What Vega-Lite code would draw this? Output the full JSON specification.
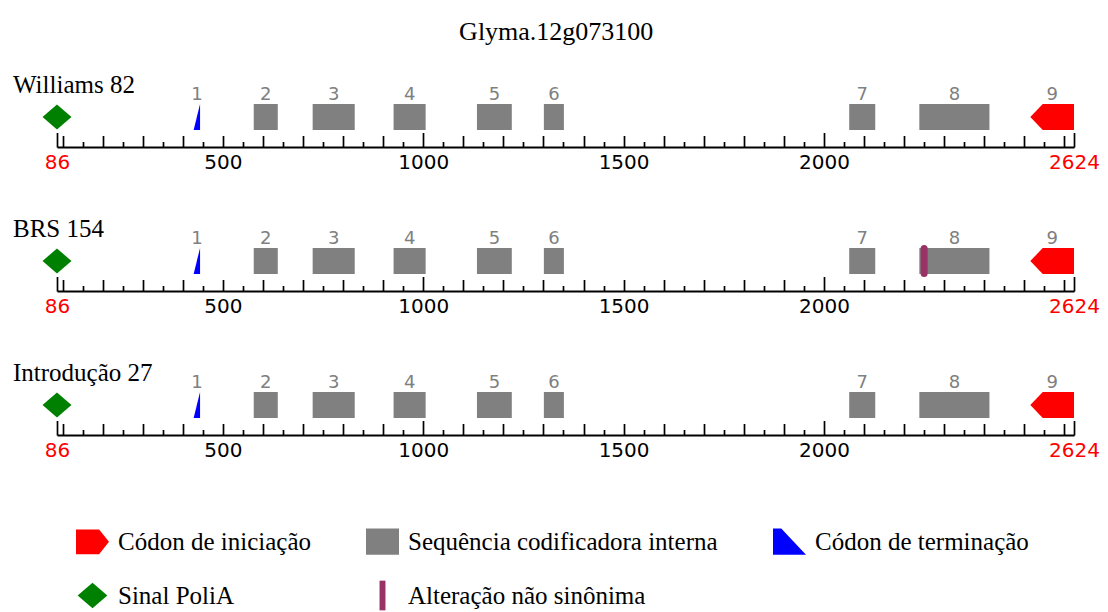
{
  "$schema": "https://vega.github.io/schema/vega-lite/v6.json",
  "background": "white",
  "padding": {"left": 13, "top": 19, "right": 5, "bottom": 5},
  "title": {
    "text": "Glyma.12g073100",
    "font": "Liberation Serif",
    "fontSize": 26,
    "fontWeight": "normal",
    "color": "black",
    "anchor": "middle",
    "offset": 28
  },
  "spacing": 45,
  "datasets": {
    "features": [
      {"variedade": "Williams 82", "n": 1, "tipo": "Códon de terminação", "inicio": 427, "fim": 443},
      {"variedade": "Williams 82", "n": 2, "tipo": "Sequência codificadora interna", "inicio": 577, "fim": 637},
      {"variedade": "Williams 82", "n": 3, "tipo": "Sequência codificadora interna", "inicio": 724, "fim": 829},
      {"variedade": "Williams 82", "n": 4, "tipo": "Sequência codificadora interna", "inicio": 926, "fim": 1006},
      {"variedade": "Williams 82", "n": 5, "tipo": "Sequência codificadora interna", "inicio": 1134, "fim": 1221},
      {"variedade": "Williams 82", "n": 6, "tipo": "Sequência codificadora interna", "inicio": 1301, "fim": 1351},
      {"variedade": "Williams 82", "n": 7, "tipo": "Sequência codificadora interna", "inicio": 2063, "fim": 2128},
      {"variedade": "Williams 82", "n": 8, "tipo": "Sequência codificadora interna", "inicio": 2238, "fim": 2413},
      {"variedade": "Williams 82", "n": 9, "tipo": "Códon de iniciação", "inicio": 2515, "fim": 2624},
      {"variedade": "BRS 154", "n": 1, "tipo": "Códon de terminação", "inicio": 427, "fim": 443},
      {"variedade": "BRS 154", "n": 2, "tipo": "Sequência codificadora interna", "inicio": 577, "fim": 637},
      {"variedade": "BRS 154", "n": 3, "tipo": "Sequência codificadora interna", "inicio": 724, "fim": 829},
      {"variedade": "BRS 154", "n": 4, "tipo": "Sequência codificadora interna", "inicio": 926, "fim": 1006},
      {"variedade": "BRS 154", "n": 5, "tipo": "Sequência codificadora interna", "inicio": 1134, "fim": 1221},
      {"variedade": "BRS 154", "n": 6, "tipo": "Sequência codificadora interna", "inicio": 1301, "fim": 1351},
      {"variedade": "BRS 154", "n": 7, "tipo": "Sequência codificadora interna", "inicio": 2063, "fim": 2128},
      {"variedade": "BRS 154", "n": 8, "tipo": "Sequência codificadora interna", "inicio": 2238, "fim": 2413},
      {"variedade": "BRS 154", "n": 9, "tipo": "Códon de iniciação", "inicio": 2515, "fim": 2624},
      {"variedade": "Introdução 27", "n": 1, "tipo": "Códon de terminação", "inicio": 427, "fim": 443},
      {"variedade": "Introdução 27", "n": 2, "tipo": "Sequência codificadora interna", "inicio": 577, "fim": 637},
      {"variedade": "Introdução 27", "n": 3, "tipo": "Sequência codificadora interna", "inicio": 724, "fim": 829},
      {"variedade": "Introdução 27", "n": 4, "tipo": "Sequência codificadora interna", "inicio": 926, "fim": 1006},
      {"variedade": "Introdução 27", "n": 5, "tipo": "Sequência codificadora interna", "inicio": 1134, "fim": 1221},
      {"variedade": "Introdução 27", "n": 6, "tipo": "Sequência codificadora interna", "inicio": 1301, "fim": 1351},
      {"variedade": "Introdução 27", "n": 7, "tipo": "Sequência codificadora interna", "inicio": 2063, "fim": 2128},
      {"variedade": "Introdução 27", "n": 8, "tipo": "Sequência codificadora interna", "inicio": 2238, "fim": 2413},
      {"variedade": "Introdução 27", "n": 9, "tipo": "Códon de iniciação", "inicio": 2515, "fim": 2624}
    ],
    "vertices": [
      {"variedade": "Williams 82", "tipo": "Códon de terminação", "pos": 427, "topo": 0, "base": 0},
      {"variedade": "Williams 82", "tipo": "Códon de terminação", "pos": 443, "topo": 1, "base": 0},
      {"variedade": "Williams 82", "tipo": "Códon de iniciação", "pos": 2515, "topo": 0.5, "base": 0.5},
      {"variedade": "Williams 82", "tipo": "Códon de iniciação", "pos": 2546, "topo": 1, "base": 0},
      {"variedade": "Williams 82", "tipo": "Códon de iniciação", "pos": 2624, "topo": 1, "base": 0},
      {"variedade": "BRS 154", "tipo": "Códon de terminação", "pos": 427, "topo": 0, "base": 0},
      {"variedade": "BRS 154", "tipo": "Códon de terminação", "pos": 443, "topo": 1, "base": 0},
      {"variedade": "BRS 154", "tipo": "Códon de iniciação", "pos": 2515, "topo": 0.5, "base": 0.5},
      {"variedade": "BRS 154", "tipo": "Códon de iniciação", "pos": 2546, "topo": 1, "base": 0},
      {"variedade": "BRS 154", "tipo": "Códon de iniciação", "pos": 2624, "topo": 1, "base": 0},
      {"variedade": "Introdução 27", "tipo": "Códon de terminação", "pos": 427, "topo": 0, "base": 0},
      {"variedade": "Introdução 27", "tipo": "Códon de terminação", "pos": 443, "topo": 1, "base": 0},
      {"variedade": "Introdução 27", "tipo": "Códon de iniciação", "pos": 2515, "topo": 0.5, "base": 0.5},
      {"variedade": "Introdução 27", "tipo": "Códon de iniciação", "pos": 2546, "topo": 1, "base": 0},
      {"variedade": "Introdução 27", "tipo": "Códon de iniciação", "pos": 2624, "topo": 1, "base": 0}
    ],
    "sinais": [
      {"variedade": "Williams 82", "tipo": "Sinal PoliA", "pos": 86},
      {"variedade": "BRS 154", "tipo": "Sinal PoliA", "pos": 86},
      {"variedade": "Introdução 27", "tipo": "Sinal PoliA", "pos": 86},
      {"variedade": "BRS 154", "tipo": "Alteração não sinônima", "pos": 2250}
    ]
  },
  "vconcat": [
    {
      "width": 1017,
      "height": 26,
      "title": {"text": "Williams 82", "anchor": "start", "frame": "group", "dx": -44, "dy": 12, "offset": 0, "font": "Liberation Serif", "fontSize": 25, "fontWeight": "normal", "color": "black"},
      "resolve": {"axis": {"x": "independent"}},
      "layer": [
        {
          "data": {"name": "features"},
          "transform": [{"filter": "datum.variedade === 'Williams 82' && datum.tipo === 'Sequência codificadora interna'"}],
          "mark": {"type": "rect", "color": "#808080"},
          "encoding": {
            "x": {"field": "inicio", "type": "quantitative", "scale": {"domain": [86, 2624], "nice": false, "zero": false},
              "axis": {"title": null, "orient": "bottom", "offset": 17, "grid": false, "values": [86, 500, 1000, 1500, 2000, 2624], "format": "d",
                "labelColor": {"condition": {"test": "datum.value == 86 || datum.value == 2624", "value": "#FF0000"}, "value": "#000000"},
                "labelFont": "DejaVu Sans", "labelFontSize": 20, "labelOverlap": false, "labelBound": false, "labelFlush": false, "labelPadding": 5,
                "ticks": false, "domain": true, "domainColor": "#000000", "domainWidth": 2.2}},
            "x2": {"field": "fim"},
            "y": {"datum": 0, "type": "quantitative", "scale": {"domain": [0, 1], "nice": false, "zero": false}, "axis": null},
            "y2": {"datum": 1}
          }
        },
        {
          "data": {"name": "vertices"},
          "transform": [{"filter": "datum.variedade === 'Williams 82' && datum.tipo === 'Códon de terminação'"}],
          "mark": {"type": "area", "color": "#0000FF", "interpolate": "linear"},
          "encoding": {
            "x": {"field": "pos", "type": "quantitative", "scale": {"domain": [86, 2624], "nice": false, "zero": false},
              "axis": {"title": null, "orient": "bottom", "offset": 17, "grid": false, "values": [86, 1000, 2000, 2624], "labels": false, "domain": false, "ticks": true, "tickSize": -14.5, "tickColor": "#000000", "tickWidth": 1.7}},
            "y": {"field": "topo", "type": "quantitative", "scale": {"domain": [0, 1], "nice": false, "zero": false}, "axis": null},
            "y2": {"field": "base"}
          }
        },
        {
          "data": {"name": "vertices"},
          "transform": [{"filter": "datum.variedade === 'Williams 82' && datum.tipo === 'Códon de iniciação'"}],
          "mark": {"type": "area", "color": "#FF0000", "interpolate": "linear"},
          "encoding": {
            "x": {"field": "pos", "type": "quantitative", "scale": {"domain": [86, 2624], "nice": false, "zero": false},
              "axis": {"title": null, "orient": "bottom", "offset": 17, "grid": false, "values": [100,200,300,400,500,600,700,800,900,1100,1200,1300,1400,1500,1600,1700,1800,1900,2100,2200,2300,2400,2500,2600], "labels": false, "domain": false, "ticks": true, "tickSize": -11.5, "tickColor": "#000000", "tickWidth": 1.7}},
            "y": {"field": "topo", "type": "quantitative", "scale": {"domain": [0, 1], "nice": false, "zero": false}, "axis": null},
            "y2": {"field": "base"}
          }
        },
        {
          "data": {"name": "sinais"},
          "transform": [{"filter": "datum.variedade === 'Williams 82' && datum.tipo === 'Sinal PoliA'"}],
          "mark": {"type": "point", "filled": true, "opacity": 1, "size": 1037, "strokeWidth": 0},
          "encoding": {
            "x": {"field": "pos", "type": "quantitative", "scale": {"domain": [86, 2624], "nice": false, "zero": false},
              "axis": {"title": null, "orient": "bottom", "offset": 17, "grid": false, "values": [150,250,350,450,550,650,750,850,950,1050,1150,1250,1350,1450,1550,1650,1750,1850,1950,2050,2150,2250,2350,2450,2550], "labels": false, "domain": false, "ticks": true, "tickSize": -5.5, "tickColor": "#000000", "tickWidth": 1.7}},
            "y": {"datum": 0.5, "type": "quantitative", "scale": {"domain": [0, 1], "nice": false, "zero": false}, "axis": null},
            "color": {"field": "tipo", "type": "nominal",
              "scale": {"domain": ["Códon de iniciação", "Sequência codificadora interna", "Códon de terminação", "Sinal PoliA", "Alteração não sinônima"], "range": ["#FF0000", "#808080", "#0000FF", "#008000", "#993366"]},
              "legend": {"orient": "none", "legendX": 19, "legendY": 421, "title": null, "direction": "horizontal", "columns": 3}},
            "shape": {"field": "tipo", "type": "nominal",
              "scale": {"domain": ["Códon de iniciação", "Sequência codificadora interna", "Códon de terminação", "Sinal PoliA", "Alteração não sinônima"],
                "range": ["M-1,-0.75L0.4,-0.75L1,0L0.4,0.75L-1,0.75Z", "M-1,-0.8L1,-0.8L1,0.8L-1,0.8Z", "M-1,-0.8L-0.5,-0.8L1,0.8L-1,0.8Z", "M-0.9,0L0,-0.78L0.9,0L0,0.78Z", "M-0.18,-0.9L0.18,-0.9L0.18,0.9L-0.18,0.9Z"]},
              "legend": {"orient": "none", "legendX": 19, "legendY": 421, "title": null, "direction": "horizontal", "columns": 3}}
          }
        },
        {
          "data": {"name": "features"},
          "transform": [{"filter": "datum.variedade === 'Williams 82'"}, {"calculate": "(datum.inicio + datum.fim) / 2", "as": "meio"}],
          "mark": {"type": "text", "baseline": "alphabetic", "dy": -4, "font": "DejaVu Sans", "fontSize": 18, "color": "#808080"},
          "encoding": {
            "x": {"field": "meio", "type": "quantitative", "scale": {"domain": [86, 2624], "nice": false, "zero": false}, "axis": null},
            "y": {"datum": 1, "type": "quantitative", "scale": {"domain": [0, 1], "nice": false, "zero": false}, "axis": null},
            "text": {"field": "n"}
          }
        }
      ]
    },
    {
      "width": 1017,
      "height": 26,
      "title": {"text": "BRS 154", "anchor": "start", "frame": "group", "dx": -44, "dy": 12, "offset": 0, "font": "Liberation Serif", "fontSize": 25, "fontWeight": "normal", "color": "black"},
      "resolve": {"axis": {"x": "independent"}},
      "layer": [
        {
          "data": {"name": "features"},
          "transform": [{"filter": "datum.variedade === 'BRS 154' && datum.tipo === 'Sequência codificadora interna'"}],
          "mark": {"type": "rect", "color": "#808080"},
          "encoding": {
            "x": {"field": "inicio", "type": "quantitative", "scale": {"domain": [86, 2624], "nice": false, "zero": false},
              "axis": {"title": null, "orient": "bottom", "offset": 17, "grid": false, "values": [86, 500, 1000, 1500, 2000, 2624], "format": "d",
                "labelColor": {"condition": {"test": "datum.value == 86 || datum.value == 2624", "value": "#FF0000"}, "value": "#000000"},
                "labelFont": "DejaVu Sans", "labelFontSize": 20, "labelOverlap": false, "labelBound": false, "labelFlush": false, "labelPadding": 5,
                "ticks": false, "domain": true, "domainColor": "#000000", "domainWidth": 2.2}},
            "x2": {"field": "fim"},
            "y": {"datum": 0, "type": "quantitative", "scale": {"domain": [0, 1], "nice": false, "zero": false}, "axis": null},
            "y2": {"datum": 1}
          }
        },
        {
          "data": {"name": "vertices"},
          "transform": [{"filter": "datum.variedade === 'BRS 154' && datum.tipo === 'Códon de terminação'"}],
          "mark": {"type": "area", "color": "#0000FF", "interpolate": "linear"},
          "encoding": {
            "x": {"field": "pos", "type": "quantitative", "scale": {"domain": [86, 2624], "nice": false, "zero": false},
              "axis": {"title": null, "orient": "bottom", "offset": 17, "grid": false, "values": [86, 1000, 2000, 2624], "labels": false, "domain": false, "ticks": true, "tickSize": -14.5, "tickColor": "#000000", "tickWidth": 1.7}},
            "y": {"field": "topo", "type": "quantitative", "scale": {"domain": [0, 1], "nice": false, "zero": false}, "axis": null},
            "y2": {"field": "base"}
          }
        },
        {
          "data": {"name": "vertices"},
          "transform": [{"filter": "datum.variedade === 'BRS 154' && datum.tipo === 'Códon de iniciação'"}],
          "mark": {"type": "area", "color": "#FF0000", "interpolate": "linear"},
          "encoding": {
            "x": {"field": "pos", "type": "quantitative", "scale": {"domain": [86, 2624], "nice": false, "zero": false},
              "axis": {"title": null, "orient": "bottom", "offset": 17, "grid": false, "values": [100,200,300,400,500,600,700,800,900,1100,1200,1300,1400,1500,1600,1700,1800,1900,2100,2200,2300,2400,2500,2600], "labels": false, "domain": false, "ticks": true, "tickSize": -11.5, "tickColor": "#000000", "tickWidth": 1.7}},
            "y": {"field": "topo", "type": "quantitative", "scale": {"domain": [0, 1], "nice": false, "zero": false}, "axis": null},
            "y2": {"field": "base"}
          }
        },
        {
          "data": {"name": "sinais"},
          "transform": [{"filter": "datum.variedade === 'BRS 154' && datum.tipo === 'Alteração não sinônima'"}],
          "mark": {"type": "rule", "color": "#993366", "strokeWidth": 7, "strokeCap": "round"},
          "encoding": {
            "x": {"field": "pos", "type": "quantitative", "scale": {"domain": [86, 2624], "nice": false, "zero": false}, "axis": null},
            "y": {"datum": 0.02, "type": "quantitative", "scale": {"domain": [0, 1], "nice": false, "zero": false}, "axis": null},
            "y2": {"datum": 0.98}
          }
        },
        {
          "data": {"name": "sinais"},
          "transform": [{"filter": "datum.variedade === 'BRS 154' && datum.tipo === 'Sinal PoliA'"}],
          "mark": {"type": "point", "filled": true, "opacity": 1, "size": 1037, "strokeWidth": 0},
          "encoding": {
            "x": {"field": "pos", "type": "quantitative", "scale": {"domain": [86, 2624], "nice": false, "zero": false},
              "axis": {"title": null, "orient": "bottom", "offset": 17, "grid": false, "values": [150,250,350,450,550,650,750,850,950,1050,1150,1250,1350,1450,1550,1650,1750,1850,1950,2050,2150,2250,2350,2450,2550], "labels": false, "domain": false, "ticks": true, "tickSize": -5.5, "tickColor": "#000000", "tickWidth": 1.7}},
            "y": {"datum": 0.5, "type": "quantitative", "scale": {"domain": [0, 1], "nice": false, "zero": false}, "axis": null},
            "color": {"field": "tipo", "type": "nominal",
              "scale": {"domain": ["Códon de iniciação", "Sequência codificadora interna", "Códon de terminação", "Sinal PoliA", "Alteração não sinônima"], "range": ["#FF0000", "#808080", "#0000FF", "#008000", "#993366"]},
              "legend": {"orient": "none", "legendX": 19, "legendY": 421, "title": null, "direction": "horizontal", "columns": 3}},
            "shape": {"field": "tipo", "type": "nominal",
              "scale": {"domain": ["Códon de iniciação", "Sequência codificadora interna", "Códon de terminação", "Sinal PoliA", "Alteração não sinônima"],
                "range": ["M-1,-0.75L0.4,-0.75L1,0L0.4,0.75L-1,0.75Z", "M-1,-0.8L1,-0.8L1,0.8L-1,0.8Z", "M-1,-0.8L-0.5,-0.8L1,0.8L-1,0.8Z", "M-0.9,0L0,-0.78L0.9,0L0,0.78Z", "M-0.18,-0.9L0.18,-0.9L0.18,0.9L-0.18,0.9Z"]},
              "legend": {"orient": "none", "legendX": 19, "legendY": 421, "title": null, "direction": "horizontal", "columns": 3}}
          }
        },
        {
          "data": {"name": "features"},
          "transform": [{"filter": "datum.variedade === 'BRS 154'"}, {"calculate": "(datum.inicio + datum.fim) / 2", "as": "meio"}],
          "mark": {"type": "text", "baseline": "alphabetic", "dy": -4, "font": "DejaVu Sans", "fontSize": 18, "color": "#808080"},
          "encoding": {
            "x": {"field": "meio", "type": "quantitative", "scale": {"domain": [86, 2624], "nice": false, "zero": false}, "axis": null},
            "y": {"datum": 1, "type": "quantitative", "scale": {"domain": [0, 1], "nice": false, "zero": false}, "axis": null},
            "text": {"field": "n"}
          }
        }
      ]
    },
    {
      "width": 1017,
      "height": 26,
      "title": {"text": "Introdução 27", "anchor": "start", "frame": "group", "dx": -44, "dy": 12, "offset": 0, "font": "Liberation Serif", "fontSize": 25, "fontWeight": "normal", "color": "black"},
      "resolve": {"axis": {"x": "independent"}},
      "layer": [
        {
          "data": {"name": "features"},
          "transform": [{"filter": "datum.variedade === 'Introdução 27' && datum.tipo === 'Sequência codificadora interna'"}],
          "mark": {"type": "rect", "color": "#808080"},
          "encoding": {
            "x": {"field": "inicio", "type": "quantitative", "scale": {"domain": [86, 2624], "nice": false, "zero": false},
              "axis": {"title": null, "orient": "bottom", "offset": 17, "grid": false, "values": [86, 500, 1000, 1500, 2000, 2624], "format": "d",
                "labelColor": {"condition": {"test": "datum.value == 86 || datum.value == 2624", "value": "#FF0000"}, "value": "#000000"},
                "labelFont": "DejaVu Sans", "labelFontSize": 20, "labelOverlap": false, "labelBound": false, "labelFlush": false, "labelPadding": 5,
                "ticks": false, "domain": true, "domainColor": "#000000", "domainWidth": 2.2}},
            "x2": {"field": "fim"},
            "y": {"datum": 0, "type": "quantitative", "scale": {"domain": [0, 1], "nice": false, "zero": false}, "axis": null},
            "y2": {"datum": 1}
          }
        },
        {
          "data": {"name": "vertices"},
          "transform": [{"filter": "datum.variedade === 'Introdução 27' && datum.tipo === 'Códon de terminação'"}],
          "mark": {"type": "area", "color": "#0000FF", "interpolate": "linear"},
          "encoding": {
            "x": {"field": "pos", "type": "quantitative", "scale": {"domain": [86, 2624], "nice": false, "zero": false},
              "axis": {"title": null, "orient": "bottom", "offset": 17, "grid": false, "values": [86, 1000, 2000, 2624], "labels": false, "domain": false, "ticks": true, "tickSize": -14.5, "tickColor": "#000000", "tickWidth": 1.7}},
            "y": {"field": "topo", "type": "quantitative", "scale": {"domain": [0, 1], "nice": false, "zero": false}, "axis": null},
            "y2": {"field": "base"}
          }
        },
        {
          "data": {"name": "vertices"},
          "transform": [{"filter": "datum.variedade === 'Introdução 27' && datum.tipo === 'Códon de iniciação'"}],
          "mark": {"type": "area", "color": "#FF0000", "interpolate": "linear"},
          "encoding": {
            "x": {"field": "pos", "type": "quantitative", "scale": {"domain": [86, 2624], "nice": false, "zero": false},
              "axis": {"title": null, "orient": "bottom", "offset": 17, "grid": false, "values": [100,200,300,400,500,600,700,800,900,1100,1200,1300,1400,1500,1600,1700,1800,1900,2100,2200,2300,2400,2500,2600], "labels": false, "domain": false, "ticks": true, "tickSize": -11.5, "tickColor": "#000000", "tickWidth": 1.7}},
            "y": {"field": "topo", "type": "quantitative", "scale": {"domain": [0, 1], "nice": false, "zero": false}, "axis": null},
            "y2": {"field": "base"}
          }
        },
        {
          "data": {"name": "sinais"},
          "transform": [{"filter": "datum.variedade === 'Introdução 27' && datum.tipo === 'Sinal PoliA'"}],
          "mark": {"type": "point", "filled": true, "opacity": 1, "size": 1037, "strokeWidth": 0},
          "encoding": {
            "x": {"field": "pos", "type": "quantitative", "scale": {"domain": [86, 2624], "nice": false, "zero": false},
              "axis": {"title": null, "orient": "bottom", "offset": 17, "grid": false, "values": [150,250,350,450,550,650,750,850,950,1050,1150,1250,1350,1450,1550,1650,1750,1850,1950,2050,2150,2250,2350,2450,2550], "labels": false, "domain": false, "ticks": true, "tickSize": -5.5, "tickColor": "#000000", "tickWidth": 1.7}},
            "y": {"datum": 0.5, "type": "quantitative", "scale": {"domain": [0, 1], "nice": false, "zero": false}, "axis": null},
            "color": {"field": "tipo", "type": "nominal",
              "scale": {"domain": ["Códon de iniciação", "Sequência codificadora interna", "Códon de terminação", "Sinal PoliA", "Alteração não sinônima"], "range": ["#FF0000", "#808080", "#0000FF", "#008000", "#993366"]},
              "legend": {"orient": "none", "legendX": 19, "legendY": 421, "title": null, "direction": "horizontal", "columns": 3}},
            "shape": {"field": "tipo", "type": "nominal",
              "scale": {"domain": ["Códon de iniciação", "Sequência codificadora interna", "Códon de terminação", "Sinal PoliA", "Alteração não sinônima"],
                "range": ["M-1,-0.75L0.4,-0.75L1,0L0.4,0.75L-1,0.75Z", "M-1,-0.8L1,-0.8L1,0.8L-1,0.8Z", "M-1,-0.8L-0.5,-0.8L1,0.8L-1,0.8Z", "M-0.9,0L0,-0.78L0.9,0L0,0.78Z", "M-0.18,-0.9L0.18,-0.9L0.18,0.9L-0.18,0.9Z"]},
              "legend": {"orient": "none", "legendX": 19, "legendY": 421, "title": null, "direction": "horizontal", "columns": 3}}
          }
        },
        {
          "data": {"name": "features"},
          "transform": [{"filter": "datum.variedade === 'Introdução 27'"}, {"calculate": "(datum.inicio + datum.fim) / 2", "as": "meio"}],
          "mark": {"type": "text", "baseline": "alphabetic", "dy": -4, "font": "DejaVu Sans", "fontSize": 18, "color": "#808080"},
          "encoding": {
            "x": {"field": "meio", "type": "quantitative", "scale": {"domain": [86, 2624], "nice": false, "zero": false}, "axis": null},
            "y": {"datum": 1, "type": "quantitative", "scale": {"domain": [0, 1], "nice": false, "zero": false}, "axis": null},
            "text": {"field": "n"}
          }
        }
      ]
    }
  ],
  "config": {
    "view": {"stroke": null},
    "legend": {
      "labelFont": "Liberation Serif",
      "labelFontSize": 25,
      "labelColor": "#000000",
      "labelLimit": 500,
      "labelOffset": 9,
      "symbolSize": 1089,
      "symbolStrokeWidth": 0,
      "symbolOpacity": 1,
      "columnPadding": 55,
      "rowPadding": 24,
      "gridAlign": "each"
    }
  }
}
